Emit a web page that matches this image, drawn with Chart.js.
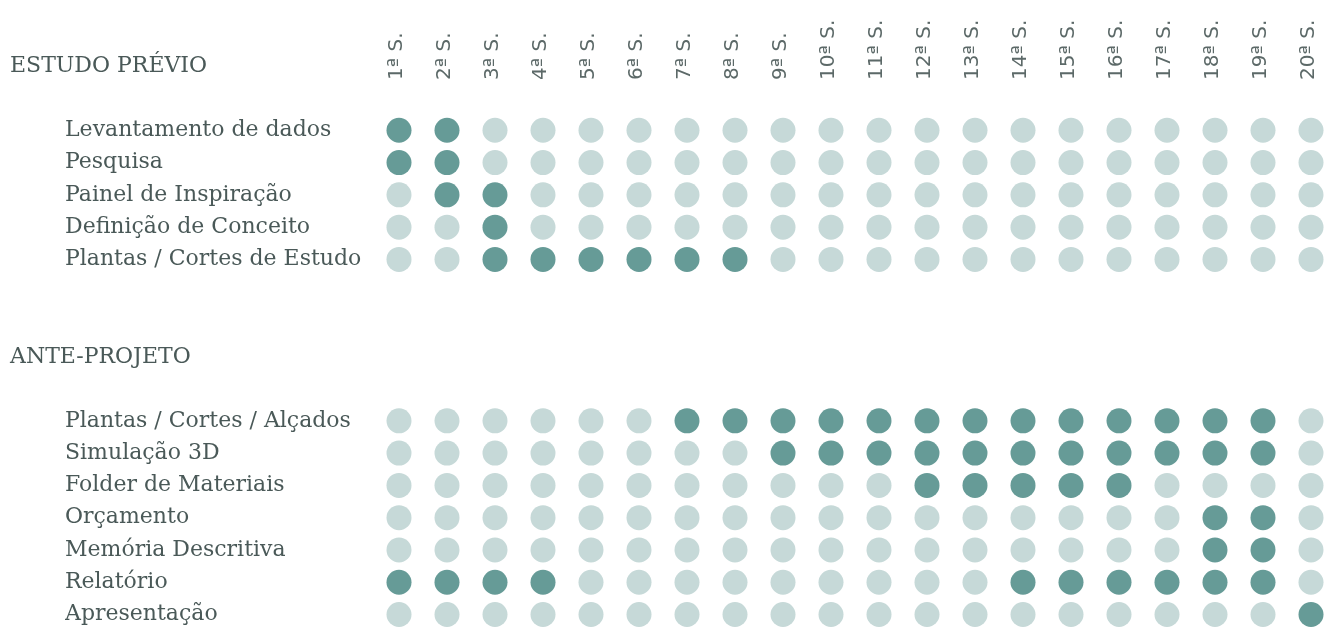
<!DOCTYPE html>
<html>
<head>
<meta charset="utf-8">
<script src="https://cdn.jsdelivr.net/npm/chart.js@4.4.1/dist/chart.umd.min.js"></script>
<style>
  html, body { margin: 0; padding: 0; background: #fff; }
  #wrap { width: 1325px; height: 627px; }
</style>
</head>
<body>
<div id="wrap"><canvas id="myChart"></canvas></div>
<script>
// week columns
const weeks = ['1ª S.', '2ª S.', '3ª S.', '4ª S.', '5ª S.', '6ª S.', '7ª S.', '8ª S.', '9ª S.', '10ª S.',
               '11ª S.', '12ª S.', '13ª S.', '14ª S.', '15ª S.', '16ª S.', '17ª S.', '18ª S.', '19ª S.', '20ª S.'];

// ESTUDO PRÉVIO (1 = active that week)
const levantamento  = [1,1,0,0,0,0,0,0,0,0,0,0,0,0,0,0,0,0,0,0];
const pesquisa      = [1,1,0,0,0,0,0,0,0,0,0,0,0,0,0,0,0,0,0,0];
const painel        = [0,1,1,0,0,0,0,0,0,0,0,0,0,0,0,0,0,0,0,0];
const conceito      = [0,0,1,0,0,0,0,0,0,0,0,0,0,0,0,0,0,0,0,0];
const plantasEstudo = [0,0,1,1,1,1,1,1,0,0,0,0,0,0,0,0,0,0,0,0];

// ANTE-PROJETO
const plantasAlcados = [0,0,0,0,0,0,1,1,1,1,1,1,1,1,1,1,1,1,1,0];
const simulacao      = [0,0,0,0,0,0,0,0,1,1,1,1,1,1,1,1,1,1,1,0];
const folder         = [0,0,0,0,0,0,0,0,0,0,0,1,1,1,1,1,0,0,0,0];
const orcamento      = [0,0,0,0,0,0,0,0,0,0,0,0,0,0,0,0,0,1,1,0];
const memoria        = [0,0,0,0,0,0,0,0,0,0,0,0,0,0,0,0,0,1,1,0];
const relatorio      = [1,1,1,1,0,0,0,0,0,0,0,0,0,1,1,1,1,1,1,0];
const apresentacao   = [0,0,0,0,0,0,0,0,0,0,0,0,0,0,0,0,0,0,0,1];

const groups = [
  { title: 'ESTUDO PRÉVIO', tasks: [
    ['Levantamento de dados', levantamento],
    ['Pesquisa', pesquisa],
    ['Painel de Inspiração', painel],
    ['Definição de Conceito', conceito],
    ['Plantas / Cortes de Estudo', plantasEstudo]
  ]},
  { title: 'ANTE-PROJETO', tasks: [
    ['Plantas / Cortes / Alçados', plantasAlcados],
    ['Simulação 3D', simulacao],
    ['Folder de Materiais', folder],
    ['Orçamento', orcamento],
    ['Memória Descritiva', memoria],
    ['Relatório', relatorio],
    ['Apresentação', apresentacao]
  ]}
];

const DARK = '#669b97';
const LIGHT = '#c6d9d8';
const TEXT = '#4a5958';

// lay out rows: title, blank, tasks..., blanks before next title
var slot = 0;
var titles = [];
var rowNames = {};
var points = [];
groups.forEach(function(g) {
  titles.push({ text: g.title, y: slot });
  slot += 2;
  g.tasks.forEach(function(t) {
    rowNames[slot] = t[0];
    t[1].forEach(function(v, i) {
      points.push({ x: weeks[i], y: slot, on: v });
    });
    slot++;
  });
  slot += 2;
});
const taskSlots = Object.keys(rowNames).map(Number);

const groupTitles = {
  id: 'groupTitles',
  afterDraw(chart) {
    const ctx = chart.ctx;
    const y = chart.scales.y;
    ctx.save();
    ctx.font = '22px "DejaVu Serif"';
    ctx.fillStyle = TEXT;
    ctx.textBaseline = 'middle';
    titles.forEach(function(t) {
      ctx.fillText(t.text, 10, y.getPixelForValue(t.y) + 1);
    });
    ctx.restore();
  }
};

new Chart(document.getElementById('myChart'), {
  type: 'scatter',
  data: {
    datasets: [{
      data: points,
      pointRadius: 12.5,
      pointHoverRadius: 12.5,
      borderWidth: 0,
      backgroundColor: ctx => (ctx.raw && ctx.raw.on) ? DARK : LIGHT,
      clip: false
    }]
  },
  options: {
    responsive: true,
    maintainAspectRatio: false,
    animation: false,
    layout: { padding: { left: 65, right: 14, top: 0, bottom: 0 } },
    plugins: { legend: { display: false }, tooltip: { enabled: false } },
    scales: {
      x: {
        type: 'category',
        labels: weeks,
        position: 'top',
        offset: false,
        grid: { display: false, drawTicks: false },
        border: { display: false },
        ticks: {
          minRotation: 90, maxRotation: 90, autoSkip: false, padding: 18,
          labelOffset: 22,
          color: '#5c6968',
          font: { family: 'DejaVu Sans', size: 20 }
        },
        afterFit: function(scale) {
          scale.height = 98;
          scale.paddingLeft = 0;
          scale.paddingRight = 0;
        }
      },
      y: {
        type: 'linear',
        reverse: true,
        min: 1,
        max: 17,
        grid: { display: false, drawTicks: false },
        border: { display: false },
        afterBuildTicks: function(scale) {
          scale.ticks = taskSlots.map(v => ({ value: v }));
        },
        ticks: {
          autoSkip: false,
          crossAlign: 'far',
          padding: 0,
          color: TEXT,
          font: { family: 'DejaVu Serif', size: 22 },
          callback: v => rowNames[v] || ''
        },
        afterFit: function(scale) {
          scale.width = 334;
          scale.paddingTop = 0;
          scale.paddingBottom = 0;
        }
      }
    }
  },
  plugins: [groupTitles]
});
</script>
</body>
</html>
